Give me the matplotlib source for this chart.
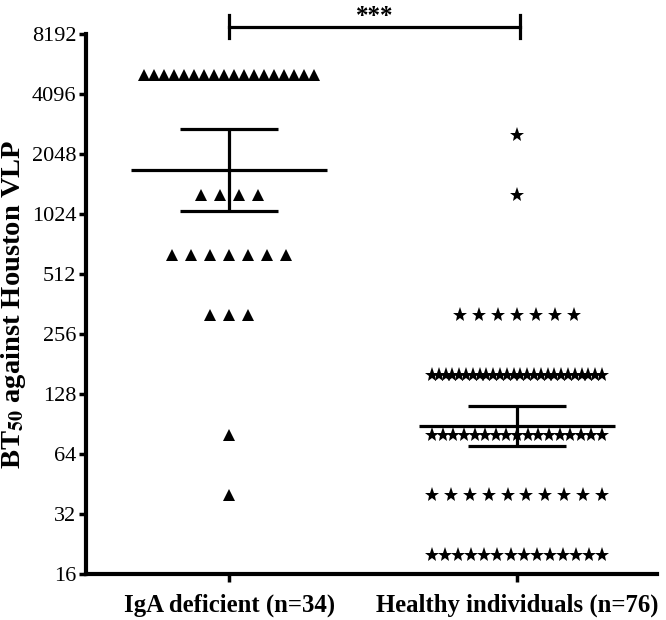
import numpy as np
import matplotlib
matplotlib.use("Agg")
import matplotlib.pyplot as plt
import matplotlib.transforms as mtransforms

plt.rcParams['font.family'] = ['Liberation Serif', 'DejaVu Serif']
plt.rcParams['mathtext.fontset'] = 'stix'

# ---- data ----
groups = ["IgA deficient (n=34)", "Healthy individuals (n=76)"]
iga_levels = [5120, 1280, 640, 320, 80, 40]
iga_counts = [18, 4, 7, 3, 1, 1]
healthy_levels = [2560, 1280, 320, 160, 80, 40, 20]
healthy_counts = [1, 1, 7, 26, 17, 10, 14]
t_crit = [2.035, 1.992]          # 95% CI t-quantiles (df = 33, 75)
yticks = [16, 32, 64, 128, 256, 512, 1024, 2048, 4096, 8192]
signif = "***"

fig = plt.figure(figsize=(6.66, 6.2), dpi=100)
ax = fig.add_axes([86/666, 1-574/620, (657-86)/666, (574-34)/620])
ax.set_yscale('log', base=2)
ax.set_ylim(16, 8192)
ax.set_xlim(-0.497, 1.486)


def row_offsets(n, step=0.066, maxw=0.59):
    if n == 1:
        return np.zeros(1)
    s = min(step, maxw / (n - 1))
    return (np.arange(n) - (n - 1) / 2) * s


def draw_group(xc, levels, counts, marker, ms, tq):
    xs, ys = [], []
    for lv, c in zip(levels, counts):
        xs.extend(xc + row_offsets(c))
        ys.extend([lv] * c)
    ax.plot(xs, ys, linestyle='none', marker=marker, ms=ms, color='black',
            markeredgewidth=0, clip_on=False, zorder=3)
    vals = np.repeat(levels, counts).astype(float)
    lg = np.log2(vals)
    m = lg.mean()
    sem = lg.std(ddof=1) / np.sqrt(len(lg))
    gm, lo, hi = 2 ** m, 2 ** (m - tq * sem), 2 ** (m + tq * sem)
    ax.hlines(gm, xc - 0.34, xc + 0.34, color='black', lw=2.3, zorder=4)
    ax.vlines(xc, lo, hi, color='black', lw=2.3, zorder=4)
    ax.hlines([lo, hi], xc - 0.17, xc + 0.17, color='black', lw=2.3, zorder=4)


draw_group(0, iga_levels, iga_counts, '^', 9, t_crit[0])
draw_group(1, healthy_levels, healthy_counts, '*', 11, t_crit[1])

ax.set_yticks(yticks)
ax.set_yticklabels([str(v) for v in yticks])
ax.yaxis.set_minor_locator(matplotlib.ticker.NullLocator())
ax.set_xticks([0, 1])
ax.set_xticklabels(groups, fontweight='bold', fontsize=17.8)
ax.tick_params(axis='y', labelsize=16, length=5, width=2.5, pad=2)
ax.tick_params(axis='x', length=6, width=2.5, pad=8)

for s in ['top', 'right']:
    ax.spines[s].set_visible(False)
for s in ['left', 'bottom']:
    ax.spines[s].set_linewidth(3)

ax.set_ylabel(r'BT$_{\mathbf{50}}$ against Houston VLP', fontweight='bold',
              fontsize=20.5, labelpad=3)

# significance bracket
trans = mtransforms.blended_transform_factory(ax.transData, ax.transAxes)
ax.plot([0, 1.01], [1.013, 1.013], color='black', lw=2.3, transform=trans, clip_on=False)
ax.plot([0, 0], [0.993, 1.035], color='black', lw=2.3, transform=trans, clip_on=False)
ax.plot([1.01, 1.01], [0.993, 1.035], color='black', lw=2.3, transform=trans, clip_on=False)
ax.text(0.505, 1.012, signif, transform=trans, ha='center', va='bottom',
        fontsize=18, fontweight='bold')

fig.savefig('out.png', dpi=100)
